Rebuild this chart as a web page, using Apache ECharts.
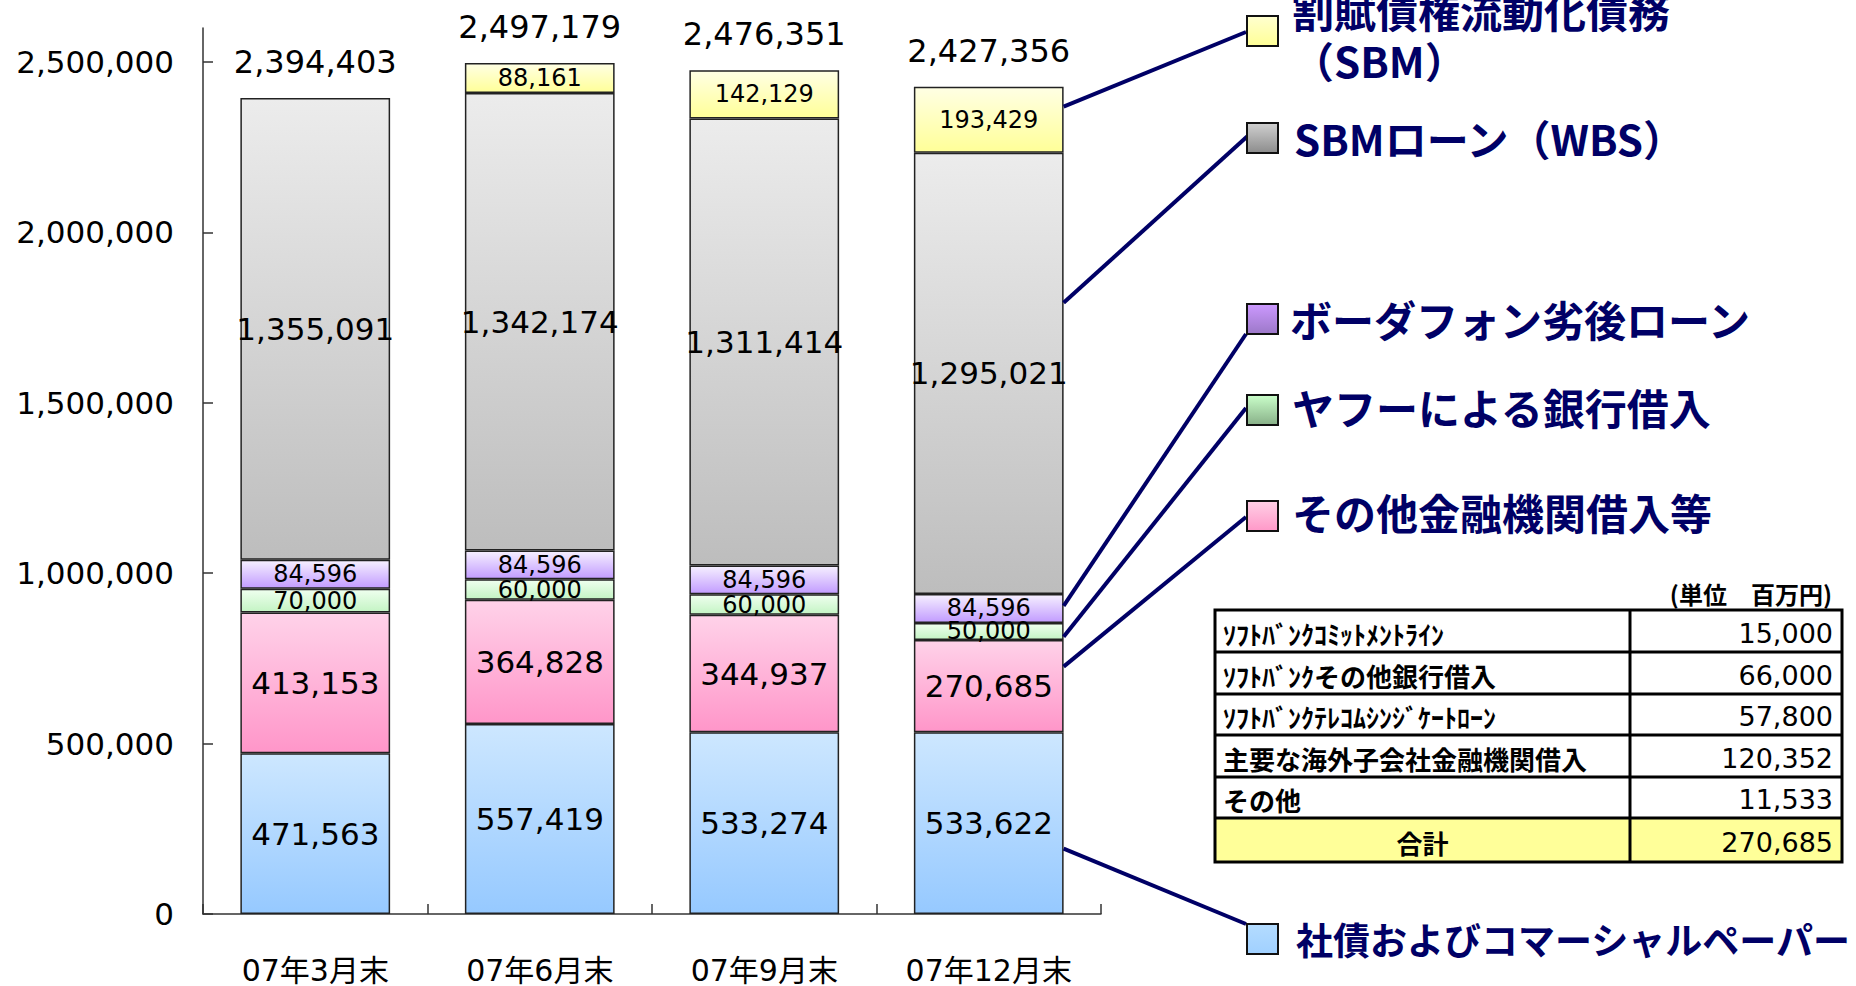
<!DOCTYPE html>
<html>
<head>
<meta charset="utf-8">
<script src="https://cdn.jsdelivr.net/npm/echarts@6/dist/echarts.min.js"></script>
<style>
html,body{margin:0;padding:0;background:#fff;}
#chart{width:1856px;height:986px;}
</style>
</head>
<body>
<div id="chart"></div>
<script>
// ---- data ----
const categories = ['07年3月末', '07年6月末', '07年9月末', '07年12月末'];
const bonds       = [471563, 557419, 533274, 533622];      // 社債およびコマーシャルペーパー
const otherLoans  = [413153, 364828, 344937, 270685];      // その他金融機関借入等
const yahooLoans  = [70000, 60000, 60000, 50000];          // ヤフーによる銀行借入
const vodafoneSub = [84596, 84596, 84596, 84596];          // ボーダフォン劣後ローン
const sbmLoan     = [1355091, 1342174, 1311414, 1295021];  // SBMローン（WBS）
const sbmSecur    = [null, 88161, 142129, 193429];         // 割賦債権流動化債務（SBM）
const totals      = [2394403, 2497179, 2476351, 2427356];
const yTicks      = [0, 500000, 1000000, 1500000, 2000000, 2500000];

const seriesNames = ['社債およびコマーシャルペーパー', 'その他金融機関借入等', 'ヤフーによる銀行借入',
                     'ボーダフォン劣後ローン', 'SBMローン（WBS）', '割賦債権流動化債務（SBM）'];

const tableUnit   = '(単位　百万円)';
const tableLabels = ['ｿﾌﾄﾊﾞﾝｸｺﾐｯﾄﾒﾝﾄﾗｲﾝ', 'ｿﾌﾄﾊﾞﾝｸその他銀行借入', 'ｿﾌﾄﾊﾞﾝｸﾃﾚｺﾑｼﾝｼﾞｹｰﾄﾛｰﾝ',
                     '主要な海外子会社金融機関借入', 'その他'];
const tableValues = [15000, 66000, 57800, 120352, 11533];
const tableTotalLabel = '合計';
const tableTotal  = 270685;

// ---- helpers ----
const fmt = v => Number(v).toLocaleString('en-US');
const grad = (a, b) => ({type: 'linear', x: 0, y: 0, x2: 0, y2: 1,
  colorStops: [{offset: 0, color: a}, {offset: 1, color: b}]});
const NUM_FONT = 'DejaVu Sans';
const JP_FONT = '"Noto Sans CJK JP"';

const styles = [
  {top: '#cde7ff', bottom: '#96c9ff', size: 31, box: ['#b4dcff', '#a0d0ff']},
  {top: '#ffd2e9', bottom: '#ff96c9', size: 31, box: ['#ffd0e6', '#ff98c8']},
  {top: '#efffef', bottom: '#c4f4c4', size: 24, box: ['#caffca', '#88b088']},
  {top: '#f6f0ff', bottom: '#c29cff', size: 24, box: ['#cc99ff', '#9c78c8']},
  {top: '#ececec', bottom: '#bdbdbd', size: 31, box: ['#d0d0d0', '#8c8c8c']},
  {top: '#ffffe4', bottom: '#ffff98', size: 24, box: ['#ffffd0', '#ffff96']}
];
const seriesData = [bonds, otherLoans, yahooLoans, vodafoneSub, sbmLoan, sbmSecur];

const chart = echarts.init(document.getElementById('chart'), null, {renderer: 'svg'});

const barSeries = seriesData.map((d, i) => ({
  name: seriesNames[i],
  type: 'bar',
  stack: 'total',
  data: d,
  barCategoryGap: '33.3%',
  itemStyle: {color: grad(styles[i].top, styles[i].bottom), borderColor: '#222', borderWidth: 1.5},
  label: {
    show: true, position: 'inside', color: '#000', fontFamily: NUM_FONT,
    fontSize: styles[i].size, textBorderWidth: 0,
    formatter: p => (p.value == null ? '' : fmt(p.value))
  },
  emphasis: {disabled: true}
}));

const option = {
  animation: false,
  backgroundColor: '#fff',
  grid: {left: 203, right: 755, top: 28, bottom: 72, containLabel: false, outerBoundsMode: 'none'},
  xAxis: {
    type: 'category',
    data: categories,
    axisLine: {show: true, lineStyle: {color: '#333', width: 1.5}},
    axisTick: {show: true, inside: true, length: 10, alignWithLabel: false, lineStyle: {color: '#333', width: 1.5}},
    axisLabel: {color: '#000', fontSize: 30, fontFamily: NUM_FONT + ', ' + JP_FONT, margin: 39, lineHeight: 34}
  },
  yAxis: {
    type: 'value',
    min: 0, max: 2600000, interval: 500000,
    splitLine: {show: false},
    axisLine: {show: true, lineStyle: {color: '#333', width: 1.5}},
    axisTick: {show: true, inside: true, length: 10, customValues: yTicks, lineStyle: {color: '#333', width: 1.5}},
    axisLabel: {color: '#000', fontSize: 31, fontFamily: NUM_FONT, margin: 29, customValues: yTicks,
      formatter: v => fmt(v)}
  },
  series: barSeries.concat([{
    name: 'total',
    type: 'scatter',
    data: totals,
    symbolSize: 0,
    z: 10,
    itemStyle: {opacity: 1},
    label: {show: true, position: 'inside', offset: [0, -36], color: '#000', fontFamily: NUM_FONT,
      fontSize: 32, opacity: 1, formatter: p => fmt(p.value)},
    emphasis: {disabled: true}
  }])
};
chart.setOption(option);

// ---- annotations (legend boxes with connectors, table) ----
const NAVY = '#000066';
const last = categories.length - 1;
const cx = chart.convertToPixel({xAxisIndex: 0}, categories[last]);
const band = chart.convertToPixel({xAxisIndex: 0}, categories[1]) - chart.convertToPixel({xAxisIndex: 0}, categories[0]);
const barRight = cx + band * (1 - 0.333) / 2;

// legend layout: series index, fraction inside segment, line end, box top, text
const legendItems = [
  {s: 5, frac: 0.70, end: [1246, 32], boxY: 16, text: '割賦債権流動化債務\n（SBM）', tx: 1292, ty: 34, size: 42, lh: 50},
  {s: 4, frac: 0.66, end: [1251, 133], boxY: 123, text: 'SBMローン（WBS）', tx: 1294, ty: 137, size: 42},
  {s: 3, frac: 0.59, end: [1246, 334], boxY: 304, text: 'ボーダフォン劣後ローン', tx: 1290, ty: 318, size: 42},
  {s: 2, frac: 0.18, end: [1246, 408], boxY: 395, text: 'ヤフーによる銀行借入', tx: 1292, ty: 406, size: 42},
  {s: 1, frac: 0.71, end: [1246, 517], boxY: 501, text: 'その他金融機関借入等', tx: 1292, ty: 511, size: 42},
  {s: 0, frac: 0.36, end: [1246, 924], boxY: 924, text: '社債およびコマーシャルペーパー', tx: 1296, ty: 939, size: 37}
];

const graphics = [];
legendItems.forEach(it => {
  let base = 0;
  for (let k = 0; k < it.s; k++) base += (seriesData[k][last] || 0);
  const v = base + it.frac * seriesData[it.s][last];
  const y = chart.convertToPixel({yAxisIndex: 0}, v);
  graphics.push({type: 'line', z: 20, shape: {x1: barRight, y1: y, x2: it.end[0], y2: it.end[1]},
    style: {stroke: NAVY, lineWidth: 4}});
  graphics.push({type: 'rect', z: 21, shape: {x: 1247, y: it.boxY, width: 31, height: 30},
    style: {fill: grad(styles[it.s].box[0], styles[it.s].box[1]), stroke: '#111', lineWidth: 2}});
  graphics.push({type: 'text', z: 21, x: it.tx, y: it.ty,
    style: {text: it.text, fill: NAVY, fontFamily: JP_FONT, fontWeight: 'bold', fontSize: it.size,
      lineHeight: it.lh || it.size, verticalAlign: 'middle', align: 'left'}});
});

// table
const tL = 1215, tR = 1842, tDiv = 1630;
const rowY = [610, 652, 694, 735, 777, 818, 862];
graphics.push({type: 'rect', z: 5, shape: {x: tL, y: rowY[5], width: tR - tL, height: rowY[6] - rowY[5]},
  style: {fill: '#ffff99', stroke: null}});
graphics.push({type: 'rect', z: 6, shape: {x: tL, y: rowY[0], width: tR - tL, height: rowY[6] - rowY[0]},
  style: {fill: null, stroke: '#000', lineWidth: 3}});
for (let r = 1; r < 6; r++) {
  graphics.push({type: 'line', z: 6, shape: {x1: tL, y1: rowY[r], x2: tR, y2: rowY[r]}, style: {stroke: '#000', lineWidth: 3}});
}
graphics.push({type: 'line', z: 6, shape: {x1: tDiv, y1: rowY[0], x2: tDiv, y2: rowY[6]}, style: {stroke: '#000', lineWidth: 3}});
graphics.push({type: 'text', z: 7, x: 1832, y: 593,
  style: {text: tableUnit, fill: '#000', font: 'bold 24px ' + JP_FONT, align: 'right', verticalAlign: 'middle'}});
tableLabels.forEach((lab, r) => {
  const yc = (rowY[r] + rowY[r + 1]) / 2 + 2;
  graphics.push({type: 'text', z: 7, x: 1223, y: yc,
    style: {text: lab, fill: '#000', font: 'bold 26px ' + JP_FONT, align: 'left', verticalAlign: 'middle'}});
  graphics.push({type: 'text', z: 7, x: 1833, y: yc,
    style: {text: fmt(tableValues[r]), fill: '#000', font: '27px ' + NUM_FONT, align: 'right', verticalAlign: 'middle'}});
});
{
  const yc = (rowY[5] + rowY[6]) / 2 + 2;
  graphics.push({type: 'text', z: 7, x: (tL + tDiv) / 2, y: yc,
    style: {text: tableTotalLabel, fill: '#000', font: 'bold 26px ' + JP_FONT, align: 'center', verticalAlign: 'middle'}});
  graphics.push({type: 'text', z: 7, x: 1833, y: yc,
    style: {text: fmt(tableTotal), fill: '#000', font: '27px ' + NUM_FONT, align: 'right', verticalAlign: 'middle'}});
}

chart.setOption({graphic: graphics});
</script>
</body>
</html>
